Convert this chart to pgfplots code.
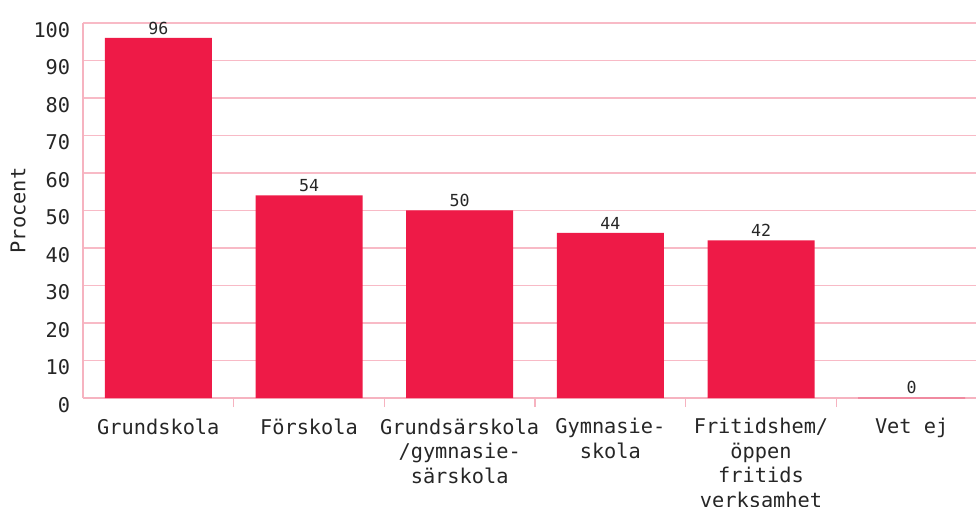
\documentclass[border=0pt]{standalone}
\usepackage{fontspec}
\setmainfont{DejaVu Sans Mono}
\usepackage{pgfplots}
\pgfplotsset{compat=1.18}
\definecolor{barred}{HTML}{EE1A47}
\definecolor{gridpink}{HTML}{F8BAC6}
\definecolor{axispink}{HTML}{F6B3C0}
\definecolor{zeroline}{HTML}{F08AA0}
\definecolor{txt}{HTML}{262626}
\begin{document}
\begin{tikzpicture}
\useasboundingbox (0,0) rectangle (976pt,506pt);
\begin{scope}[overlay]
\begin{axis}[
  at={(83pt,108pt)}, anchor=south west,
  scale only axis, width=893pt, height=375pt,
  xmin=-0.5, xmax=5.427, ymin=0, ymax=100,
  axis x line*=bottom, axis y line*=left,
  axis line style={axispink, line width=2.4pt},
  ytick={0,10,...,100},
  ymajorgrids, grid style={gridpink, line width=1.8pt},
  major tick length=0pt,
  xtick={0,...,5},
  xticklabels={Grundskola, Förskola, {Grundsärskola\\/gymnasie-\\särskola}, {Gymnasie-\\skola}, {Fritidshem/\\öppen\\fritids\\verksamhet}, Vet ej},
  minor xtick={0.5,1.5,2.5,3.5,4.5},
  minor tick length=9pt,
  minor tick style={axispink, line width=1.2pt},
  /pgf/number format/assume math mode=true,
  tick label style={text=txt, font=\fontsize{20.3}{24.5}\selectfont},
  xticklabel style={align=center, yshift=-17pt},
  yticklabel style={xshift=-9.3pt, yshift=-7pt},
  ylabel={Procent},
  ylabel style={at={(axis description cs:0,0.5)}, anchor=center, yshift=65pt, text=txt, font=\fontsize{20.3}{24}\selectfont},
  ybar, bar width=107pt,
  nodes near coords,
  nodes near coords style={text=txt, font=\fontsize{16.6}{20}\selectfont},
]
\addplot[fill=barred, draw=none, bar shift=0pt] coordinates {(0,96) (1,54) (2,50) (3,44) (4,42)};
\addplot[fill=barred, draw=zeroline, line width=1.2pt, bar shift=0pt] coordinates {(5,0)};
\end{axis}
\end{scope}
\end{tikzpicture}
\end{document}
